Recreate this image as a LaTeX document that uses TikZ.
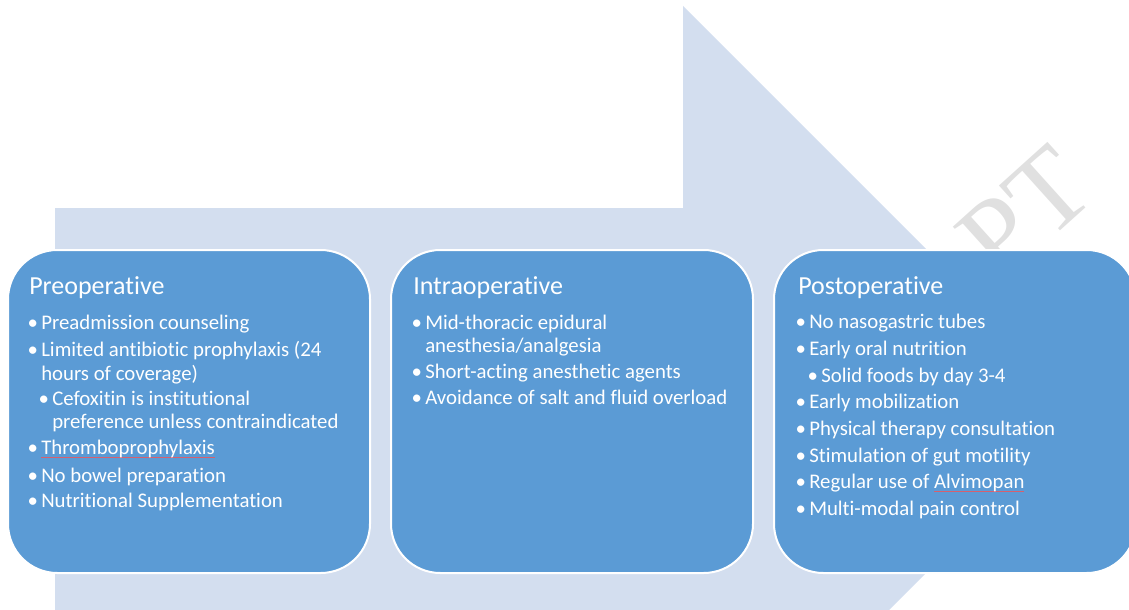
\documentclass[tikz,border=0pt]{standalone}
\usepackage{fontspec}
\setmainfont{Carlito}[Ligatures=NoCommon]
\newfontfamily\stampfont{Liberation Serif}

\definecolor{arrowfill}{RGB}{211,222,239}
\definecolor{phasefill}{RGB}{91,155,213}
\definecolor{stampgray}{RGB}{224,224,224}
\definecolor{squiggle}{RGB}{214,96,110}

\tikzset{
    phase/.style={draw=white, line width=1.5pt, fill=phasefill, rounded corners=37pt,
        minimum width=271.5pt, minimum height=242.25pt, anchor=north west, inner sep=0pt},
    title/.style={anchor=base west, inner sep=0pt, text=white, font=\fontsize{19.5}{23}\selectfont},
    item/.style={anchor=base west, inner sep=0pt, text=white, font=\fontsize{15.6}{19}\selectfont},
}
\newcommand{\bul}{\llap{\textbullet\hspace{2.5pt}}}
\newlength{\marklen}
\newcommand{\spellmark}[1]{\settowidth{\marklen}{#1}\rlap{\textcolor{squiggle}{\rule[-0.35ex]{\marklen}{0.45pt}}}#1}

\begin{document}
\begin{tikzpicture}[x=0.75pt,y=-0.75pt]
    \clip (0,0) rectangle (1129,610);
    % big background arrow
    \fill[arrowfill] (55,208) -- (683,208) -- (683,6) -- (1088,411) -- (683,816) -- (683,614) -- (55,614) -- cycle;
    \node[rotate=42, anchor=base, inner sep=0pt, text=stampgray, font=\stampfont\fontsize{85}{85}\selectfont] (stamp) at (1050,240) {PT};
    % the three phases
    \node[phase] (pre) at (7,249) {};
    \node[phase] (intra) at (390,249) {};
    \node[phase] (post) at (773,249) {};
    % preoperative
    \node[title] (pre title) at (29,294) {Preoperative};
    \node[item] (pre1) at (41,329) {\bul Preadmission counseling};
    \node[item] (pre2) at (41,356) {\bul Limited antibiotic prophylaxis (24};
    \node[item] (pre3) at (41,380) {hours of coverage)};
    \node[item] (pre4) at (52,405) {\bul Cefoxitin is institutional};
    \node[item] (pre5) at (52,428) {preference unless contraindicated};
    \node[item] (pre6) at (41,454) {\bul \spellmark{Thromboprophylaxis}};
    \node[item] (pre7) at (41,482) {\bul No bowel preparation};
    \node[item] (pre8) at (41,507) {\bul Nutritional Supplementation};
    % intraoperative
    \node[title] (intra title) at (413,294) {Intraoperative};
    \node[item] (intra1) at (425,329) {\bul Mid-thoracic epidural};
    \node[item] (intra2) at (425,352) {anesthesia/analgesia};
    \node[item] (intra3) at (425,378) {\bul Short-acting anesthetic agents};
    \node[item] (intra4) at (425,404) {\bul Avoidance of salt and fluid overload};
    % postoperative
    \node[title] (post title) at (798,294) {Postoperative};
    \node[item] (post1) at (809,328) {\bul No nasogastric tubes};
    \node[item] (post2) at (809,355) {\bul Early oral nutrition};
    \node[item] (post3) at (821,382) {\bul Solid foods by day 3-4};
    \node[item] (post4) at (809,408) {\bul Early mobilization};
    \node[item] (post5) at (809,435) {\bul Physical therapy consultation};
    \node[item] (post6) at (809,462) {\bul Stimulation of gut motility};
    \node[item] (post7) at (809,488) {\bul Regular use of \spellmark{Alvimopan}};
    \node[item] (post8) at (809,515) {\bul Multi-modal pain control};
\end{tikzpicture}
\end{document}
